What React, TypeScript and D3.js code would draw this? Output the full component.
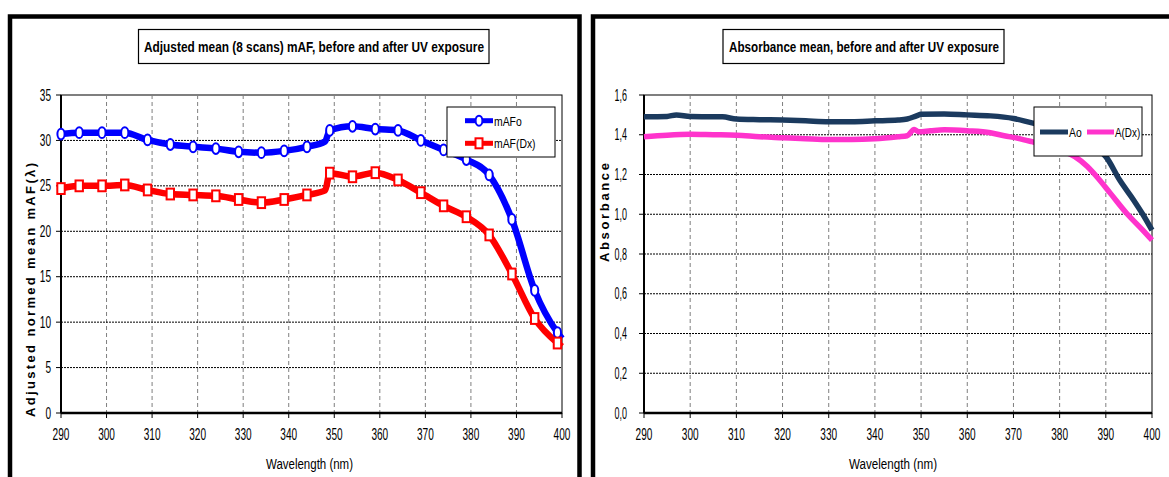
import React from "react";
import * as d3 from "d3";

// ---------- data ----------
const xTicks = [290, 300, 310, 320, 330, 340, 350, 360, 370, 380, 390, 400];
const leftYTicks = [0, 5, 10, 15, 20, 25, 30, 35];
const rightYTicks = [0, 0.2, 0.4, 0.6, 0.8, 1.0, 1.2, 1.4, 1.6];

// left chart: marker wavelengths and values
const markerWl = [290, 294, 299, 304, 309, 314, 319, 324, 329, 334, 339, 344, 349, 354, 359, 364, 369, 374, 379, 384, 389, 394, 399];
const mAFo = [30.7, 30.85, 30.85, 30.85, 30.05, 29.55, 29.3, 29.1, 28.75, 28.65, 28.85, 29.3, 31.1, 31.55, 31.25, 31.1, 30.0, 28.95, 27.9, 26.2, 21.3, 13.5, 8.85];
const mAFDx = [24.7, 25.0, 25.0, 25.1, 24.55, 24.1, 24.0, 23.9, 23.5, 23.15, 23.5, 24.0, 26.4, 26.0, 26.45, 25.65, 24.25, 22.8, 21.6, 19.6, 15.3, 10.4, 7.7];
// extra (unmarked) line points
const extraWl = [348, 400];
const mAFoExtra = [29.9, 8.2];
const mAFDxExtra = [24.5, 7.3];

// right chart
const aoWl = [290, 295, 297, 300, 305, 307, 310, 315, 320, 325, 330, 335, 340, 345, 347, 349, 350, 355, 360, 365, 370, 374, 378, 382, 385, 388, 390, 393, 396, 398, 400];
const aoVal = [1.49, 1.492, 1.5, 1.492, 1.49, 1.49, 1.479, 1.476, 1.474, 1.47, 1.466, 1.466, 1.47, 1.474, 1.479, 1.495, 1.503, 1.505, 1.5, 1.495, 1.482, 1.46, 1.44, 1.41, 1.38, 1.33, 1.29, 1.172, 1.072, 1.0, 0.92];
const adxWl = [290, 295, 300, 305, 310, 315, 320, 325, 330, 335, 340, 345, 347, 348.5, 349.5, 352, 355, 360, 365, 368, 371, 374, 378, 381, 383.3, 386, 388, 391, 394.5, 398, 400];
const adxVal = [1.39, 1.398, 1.402, 1.4, 1.398, 1.39, 1.385, 1.38, 1.376, 1.376, 1.38, 1.39, 1.395, 1.427, 1.415, 1.42, 1.425, 1.42, 1.41, 1.395, 1.382, 1.365, 1.34, 1.315, 1.29, 1.24, 1.19, 1.105, 1.005, 0.92, 0.87];

// ---------- helpers ----------
const FONT = "'Liberation Sans', Arial, sans-serif";
const commaFmt = d3.formatLocale({ decimal: ",", thousands: ".", grouping: [3], currency: ["", ""] }).format(".1f");

type Pt = [number, number];

function CText(props: { x: number; y: number; sx?: number; size?: number; anchor?: string; weight?: string; children: React.ReactNode }) {
  const { x, y, sx = 0.63, size = 16, anchor = "middle", weight = "normal", children } = props;
  return (
    <text transform={`translate(${x},${y}) scale(${sx},1)`} fontFamily={FONT} fontSize={size} fontWeight={weight} textAnchor={anchor} fill="#000">
      {children}
    </text>
  );
}

function Frame(props: {
  x: d3.ScaleLinear<number, number>;
  y: d3.ScaleLinear<number, number>;
  yTicks: number[];
  yFmt: (v: number) => string;
  yLabelRight: number;
  ySx: number;
}) {
  const { x, y, yTicks, yFmt, yLabelRight, ySx } = props;
  const [x0, x1] = x.range();
  const [y0, y1] = y.range();
  return (
    <g>
      <rect x={x0} y={y1} width={x1 - x0} height={y0 - y1} fill="#fff" stroke="#000" strokeWidth={1} />
      {xTicks.slice(1, -1).map((t) => (
        <line key={"vx" + t} x1={x(t)} x2={x(t)} y1={y1} y2={y0} stroke="#7f7f7f" strokeWidth={1} strokeDasharray="4,3" />
      ))}
      {yTicks.slice(1, -1).map((t) => (
        <line key={"hy" + t} x1={x0} x2={x1} y1={y(t)} y2={y(t)} stroke="#000" strokeWidth={1} strokeDasharray="2,1" />
      ))}
      <line x1={x0} x2={x0} y1={y1} y2={y0} stroke="#000" strokeWidth={2} />
      <line x1={x0} x2={x1} y1={y0} y2={y0} stroke="#000" strokeWidth={2.5} />
      {yTicks.map((t) => (
        <g key={"yt" + t}>
          <line x1={x0 - 5} x2={x0} y1={y(t)} y2={y(t)} stroke="#000" strokeWidth={1} />
          <CText x={yLabelRight} y={y(t) + 5.5} anchor="end" sx={ySx}>{yFmt(t)}</CText>
        </g>
      ))}
      {xTicks.map((t) => (
        <g key={"xt" + t}>
          <line x1={x(t)} x2={x(t)} y1={y0} y2={y0 + 5} stroke="#000" strokeWidth={1} />
          <CText x={x(t)} y={440}>{t}</CText>
        </g>
      ))}
    </g>
  );
}

export default function App() {
  const xL = d3.scaleLinear().domain([290, 400]).range([61, 562]);
  const yL = d3.scaleLinear().domain([0, 35]).range([413, 95]);
  const xR = d3.scaleLinear().domain([290, 400]).range([644, 1152]);
  const yR = d3.scaleLinear().domain([0, 1.6]).range([413, 95]);

  const merge = (vals: number[], extra: number[]): Pt[] =>
    [...markerWl.map((w, i) => [w, vals[i]] as Pt), ...extraWl.map((w, i) => [w, extra[i]] as Pt)].sort((a, b) => a[0] - b[0]);

  const lineL = d3.line<Pt>().x((d) => xL(d[0])).y((d) => yL(d[1])).curve(d3.curveMonotoneX);
  const lineR = d3.line<Pt>().x((d) => xR(d[0])).y((d) => yR(d[1])).curve(d3.curveMonotoneX);

  const blueLine = merge(mAFo, mAFoExtra);
  const redLine = merge(mAFDx, mAFDxExtra);
  const aoLine: Pt[] = aoWl.map((w, i) => [w, aoVal[i]]);
  const adxLine: Pt[] = adxWl.map((w, i) => [w, adxVal[i]]);

  const BLUE = "#0000ff";
  const RED = "#ff0000";
  const NAVY = "#1b3a5e";
  const MAG = "#ff33cc";

  return (
    <svg width={1169} height={477} style={{ position: "absolute", left: 0, top: 0, background: "#fff" }}>
      <rect x={0} y={0} width={1169} height={477} fill="#fff" />

      {/* panel borders */}
      <rect x={10} y={16.5} width={569.5} height={500} fill="none" stroke="#000" strokeWidth={4.5} />
      <rect x={593} y={16.5} width={600} height={500} fill="none" stroke="#000" strokeWidth={4.5} />

      {/* ---------- left chart ---------- */}
      <rect x={138.5} y={29.5} width={350.5} height={34} fill="#fff" stroke="#000" strokeWidth={1.2} />
      <text x={144} y={52} fontFamily={FONT} fontSize={15} fontWeight="bold" textLength={340} lengthAdjust="spacingAndGlyphs">
        Adjusted mean (8 scans) mAF, before and after UV exposure
      </text>

      <Frame x={xL} y={yL} yTicks={leftYTicks} yFmt={(v) => String(v)} yLabelRight={51} ySx={0.63} />

      <text transform="translate(35,417) rotate(-90)" fontFamily={FONT} fontSize={13} fontWeight="bold" textLength={254} lengthAdjust="spacing">
        Adjusted normed mean mAF(λ)
      </text>
      <text x={266} y={469} fontFamily={FONT} fontSize={14} textLength={87} lengthAdjust="spacingAndGlyphs">
        Wavelength (nm)
      </text>

      <path d={lineL(blueLine) || ""} fill="none" stroke={BLUE} strokeWidth={6.5} strokeLinejoin="round" />
      <path d={lineL(redLine) || ""} fill="none" stroke={RED} strokeWidth={6.5} strokeLinejoin="round" />
      {markerWl.map((w, i) => (
        <ellipse key={"bm" + w} cx={xL(w)} cy={yL(mAFo[i])} rx={3.6} ry={5.4} fill="#fff" stroke={BLUE} strokeWidth={2} />
      ))}
      {markerWl.map((w, i) => (
        <rect key={"rm" + w} x={xL(w) - 3.7} y={yL(mAFDx[i]) - 5.4} width={7.4} height={10.8} fill="#fff" stroke={RED} strokeWidth={2} />
      ))}

      {/* left legend */}
      <rect x={447} y={107} width={108} height={50} fill="#fff" stroke="#000" strokeWidth={1} />
      <line x1={465} x2={493} y1={120.7} y2={120.7} stroke={BLUE} strokeWidth={5} />
      <ellipse cx={479} cy={120.7} rx={3.4} ry={5} fill="#fff" stroke={BLUE} strokeWidth={2} />
      <CText x={494} y={125.5} anchor="start" size={13} sx={0.8}>mAFo</CText>
      <line x1={465} x2={493} y1={143.3} y2={143.3} stroke={RED} strokeWidth={5} />
      <rect x={475.5} y={138.3} width={7} height={10} fill="#fff" stroke={RED} strokeWidth={2} />
      <CText x={494} y={148} anchor="start" size={13} sx={0.8}>mAF(Dx)</CText>

      {/* ---------- right chart ---------- */}
      <rect x={723} y={29.5} width={281} height={34} fill="#fff" stroke="#000" strokeWidth={1.2} />
      <text x={729} y={52} fontFamily={FONT} fontSize={15} fontWeight="bold" textLength={270} lengthAdjust="spacingAndGlyphs">
        Absorbance mean, before and after UV exposure
      </text>

      <Frame x={xR} y={yR} yTicks={rightYTicks} yFmt={(v) => commaFmt(v)} yLabelRight={627} ySx={0.56} />

      <text transform="translate(609,262) rotate(-90)" fontFamily={FONT} fontSize={13} fontWeight="bold" textLength={99} lengthAdjust="spacing">
        Absorbance
      </text>
      <text x={849} y={469} fontFamily={FONT} fontSize={14} textLength={88} lengthAdjust="spacingAndGlyphs">
        Wavelength (nm)
      </text>

      <path d={lineR(aoLine) || ""} fill="none" stroke={NAVY} strokeWidth={5.5} strokeLinejoin="round" />
      <path d={lineR(adxLine) || ""} fill="none" stroke={MAG} strokeWidth={5.5} strokeLinejoin="round" />

      {/* right legend */}
      <rect x={1034} y={107} width={108} height={49} fill="#fff" stroke="#000" strokeWidth={1} />
      <line x1={1040} x2={1068} y1={132} y2={132} stroke={NAVY} strokeWidth={5} />
      <CText x={1069} y={137} anchor="start" size={13} sx={0.8}>Ao</CText>
      <line x1={1087} x2={1114} y1={132} y2={132} stroke={MAG} strokeWidth={5} />
      <CText x={1115} y={137} anchor="start" size={13} sx={0.76}>A(Dx)</CText>
    </svg>
  );
}
